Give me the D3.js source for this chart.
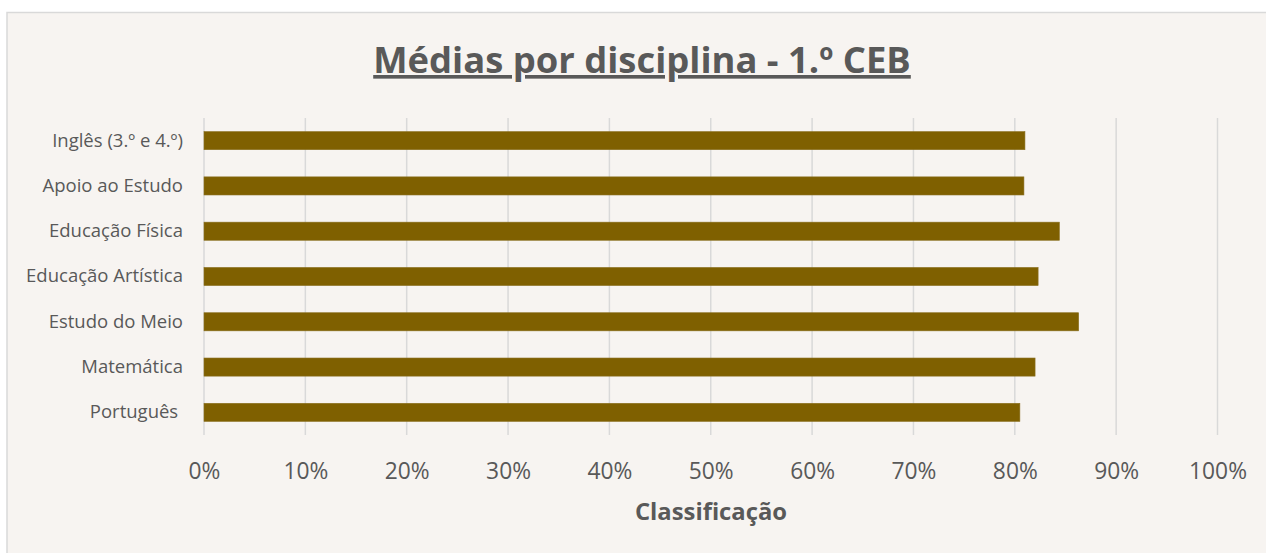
<!DOCTYPE html>
<html><head><meta charset="utf-8">
<script src="https://cdn.jsdelivr.net/npm/d3@7"></script>
<style>
html,body{margin:0;padding:0;background:#ffffff;}
svg{display:block;}
text{font-family:"Open Sans", Lato, sans-serif;}
</style></head>
<body>
<svg id="chart" width="1266" height="553"></svg>
<script>
const categories = ["Português ", "Matemática", "Estudo do Meio", "Educação Artística", "Educação Física", "Apoio ao Estudo", "Inglês (3.º e 4.º)"];
const values = [0.805, 0.820, 0.863, 0.823, 0.844, 0.809, 0.810];
const xTicks = [0, 0.1, 0.2, 0.3, 0.4, 0.5, 0.6, 0.7, 0.8, 0.9, 1.0];
const titleText = "Médias por disciplina - 1.º CEB";
const xAxisTitle = "Classificação";

const svg = d3.select("#chart");
const W = 1266, H = 553;
svg.append("rect").attr("x", 7).attr("y", 12.5).attr("width", W + 10).attr("height", H + 10)
  .attr("fill", "#f7f4f1").attr("stroke", "#d9d9d9").attr("stroke-width", 1.5);

const m = {left: 204, right: 1217.5, top: 118, bottom: 435};
const x = d3.scaleLinear().domain([0, 1]).range([m.left, m.right]);
const y = d3.scaleBand().domain(categories.slice().reverse()).range([m.top, m.bottom]).paddingInner(0.6).paddingOuter(0.3);

// gridlines
svg.append("g").selectAll("line").data(xTicks).join("line")
  .attr("x1", d => x(d)).attr("x2", d => x(d)).attr("y1", m.top).attr("y2", m.bottom)
  .attr("stroke", "#d9d9d9").attr("stroke-width", 1.5);

// bars
svg.append("g").selectAll("rect").data(categories.map((c, i) => ({c, v: values[i]}))).join("rect")
  .attr("x", x(0)).attr("y", d => y(d.c)).attr("width", d => x(d.v) - x(0)).attr("height", y.bandwidth())
  .attr("fill", "#7f6000").attr("stroke", "#8a7020").attr("stroke-width", 0.6);

// x axis tick labels
const xAxis = d3.axisBottom(x).tickValues(xTicks).tickFormat(d3.format(".0%")).tickSize(0).tickPadding(0);
const gx = svg.append("g").attr("transform", `translate(0,${m.bottom})`).call(xAxis);
gx.select(".domain").remove();
gx.selectAll("text").attr("font-family", "Open Sans").attr("font-size", 22.8).attr("fill", "#595959").attr("dy", null).attr("y", 44);

// y axis labels
const yAxis = d3.axisLeft(y).tickSize(0).tickPadding(0);
const gy = svg.append("g").attr("transform", `translate(${m.left - 21},0)`).call(yAxis);
gy.select(".domain").remove();
gy.selectAll("text").attr("font-family", "Open Sans").attr("font-size", 18.5).attr("fill", "#595959").style("white-space", "pre");

// title
svg.append("text").attr("x", 642).attr("y", 73).attr("text-anchor", "middle")
  .attr("font-size", 36.4).attr("font-weight", "bold").attr("fill", "#595959")
  .attr("text-decoration", "underline").text(titleText);

// axis title
svg.append("text").attr("x", 711).attr("y", 520).attr("text-anchor", "middle")
  .attr("font-size", 23.8).attr("font-weight", "bold").attr("fill", "#595959").text(xAxisTitle);
</script>
</body></html>
